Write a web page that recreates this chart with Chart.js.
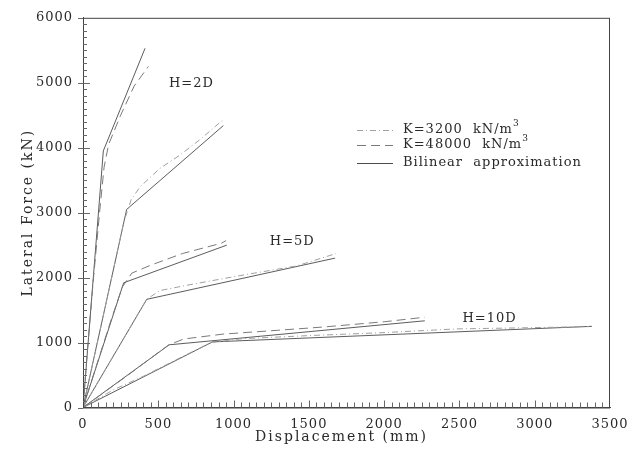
<!DOCTYPE html>
<html>
<head>
<meta charset="utf-8">
<script src="https://cdn.jsdelivr.net/npm/chart.js@4.4.1/dist/chart.umd.min.js"></script>
<style>
  html, body { margin: 0; padding: 0; background: #fff; }
</style>
</head>
<body>
<canvas id="myChart" width="638" height="452"></canvas>
<script>
// Axis ticks
var xTicks = [0, 500, 1000, 1500, 2000, 2500, 3000, 3500];
var yTicks = [0, 1000, 2000, 3000, 4000, 5000, 6000];
var xTitle = 'Displacement (mm)';
var yTitle = 'Lateral Force (kN)';

// H=2D
var h2StiffDisp  = [0, 30, 70, 110, 140, 170, 250, 340, 434];
var h2StiffForce = [0, 900, 2000, 3000, 3700, 4050, 4500, 4950, 5250];
var h2StiffBiDisp  = [0, 135, 412];
var h2StiffBiForce = [0, 3950, 5530];
var h2SoftDisp  = [0, 100, 200, 270, 320, 380, 510, 640, 780, 925];
var h2SoftForce = [0, 1050, 2100, 2850, 3200, 3400, 3680, 3880, 4130, 4420];
var h2SoftBiDisp  = [0, 290, 932];
var h2SoftBiForce = [0, 3050, 4340];

// H=5D
var h5StiffDisp  = [0, 90, 180, 260, 325, 460, 660, 920, 950];
var h5StiffForce = [0, 650, 1300, 1850, 2070, 2200, 2370, 2530, 2570];
var h5StiffBiDisp  = [0, 270, 955];
var h5StiffBiForce = [0, 1920, 2500];
var h5SoftDisp  = [0, 140, 280, 423, 510, 730, 1090, 1420, 1680];
var h5SoftForce = [0, 550, 1100, 1665, 1800, 1900, 2050, 2180, 2370];
var h5SoftBiDisp  = [0, 423, 1674];
var h5SoftBiForce = [0, 1665, 2300];

// H=10D
var h10StiffDisp  = [0, 150, 300, 450, 570, 670, 930, 1300, 1600, 2000, 2270];
var h10StiffForce = [0, 250, 500, 760, 965, 1055, 1130, 1190, 1240, 1320, 1390];
var h10StiffBiDisp  = [0, 572, 2270];
var h10StiffBiForce = [0, 965, 1335];
var h10SoftDisp  = [0, 200, 400, 640, 850, 1060, 1530, 1970, 2480, 2880, 3360];
var h10SoftForce = [0, 270, 480, 760, 1000, 1060, 1110, 1150, 1210, 1225, 1245];
var h10SoftBiDisp  = [0, 860, 3380];
var h10SoftBiForce = [0, 1010, 1250];

// Curve labels (data coordinates)
var labelText = ['H=2D', 'H=5D', 'H=10D'];
var labelDisp = [720, 1390, 2700];
var labelForce = [4990, 2550, 1365];

var FONT = '"DejaVu Serif", "Liberation Serif", serif';
var INK = '#2a2a2a';

function pts(xs, ys) {
  return xs.map(function (x, i) { return { x: x, y: ys[i] }; });
}

var softStyle  = { borderColor: '#a0a0a0', borderDash: [6, 3, 1, 3], borderWidth: 1 };
var stiffStyle = { borderColor: '#7a7a7a', borderDash: [9, 5], borderWidth: 1 };
var biStyle    = { borderColor: '#4a4a4a', borderDash: [], borderWidth: 0.9 };

function ds(xs, ys, style) {
  return Object.assign({ data: pts(xs, ys), pointRadius: 0, fill: false, tension: 0 }, style);
}

var datasets = [
  ds(h2StiffDisp, h2StiffForce, stiffStyle),
  ds(h2SoftDisp, h2SoftForce, softStyle),
  ds(h5StiffDisp, h5StiffForce, stiffStyle),
  ds(h5SoftDisp, h5SoftForce, softStyle),
  ds(h10StiffDisp, h10StiffForce, stiffStyle),
  ds(h10SoftDisp, h10SoftForce, softStyle),
  ds(h2StiffBiDisp, h2StiffBiForce, biStyle),
  ds(h2SoftBiDisp, h2SoftBiForce, biStyle),
  ds(h5StiffBiDisp, h5StiffBiForce, biStyle),
  ds(h5SoftBiDisp, h5SoftBiForce, biStyle),
  ds(h10StiffBiDisp, h10StiffBiForce, biStyle),
  ds(h10SoftBiDisp, h10SoftBiForce, biStyle)
];

// frame, minor ticks, axis titles, curve labels, legend
var decor = {
  id: 'decor',
  beforeDraw: function (chart) {
    chart.ctx.letterSpacing = '1px';
  },
  afterDraw: function (chart) {
    var ctx = chart.ctx;
    var a = chart.chartArea;
    var xs = chart.scales.x, ys = chart.scales.y;
    ctx.save();
    ctx.strokeStyle = '#444';
    ctx.lineWidth = 1;
    ctx.strokeRect(a.left + 0.5, a.top + 0.5, a.right - a.left - 1, a.bottom - a.top);

    // inward minor ticks
    ctx.strokeStyle = '#666';
    ctx.beginPath();
    for (var v = 50; v < 3500; v += 50) {
      var px = Math.round(xs.getPixelForValue(v)) + 0.5;
      var len = v % 500 === 0 ? 7 : 5;
      ctx.moveTo(px, a.bottom);
      ctx.lineTo(px, a.bottom - len);
    }
    for (var w = 100; w < 6000; w += 100) {
      var py = Math.round(ys.getPixelForValue(w)) + 0.5;
      var l2 = w % 1000 === 0 ? 7 : 4;
      ctx.moveTo(a.left, py);
      ctx.lineTo(a.left + l2, py);
    }
    ctx.stroke();
    // outward major ticks on y
    ctx.beginPath();
    yTicks.forEach(function (t) {
      var py = Math.round(ys.getPixelForValue(t)) + 0.5;
      ctx.moveTo(a.left - 5, py);
      ctx.lineTo(a.left, py);
    });
    ctx.stroke();

    // axis titles
    ctx.fillStyle = INK;
    ctx.textAlign = 'center';
    ctx.textBaseline = 'middle';
    ctx.font = '14px ' + FONT;
    ctx.letterSpacing = '2px';
    ctx.fillText(xTitle, (a.left + a.right) / 2 - 5, 437);
    ctx.save();
    ctx.translate(28, (a.top + a.bottom) / 2);
    ctx.rotate(-Math.PI / 2);
    ctx.fillText(yTitle, 0, 0);
    ctx.restore();

    // curve labels
    ctx.letterSpacing = '1px';
    ctx.font = '13px ' + FONT;
    labelText.forEach(function (t, i) {
      ctx.fillText(t, xs.getPixelForValue(labelDisp[i]), ys.getPixelForValue(labelForce[i]));
    });

    // legend
    var lx0 = 357, lx1 = 393, tx = 403;
    var rows = [130, 145, 163];
    var styles = [softStyle, stiffStyle, biStyle];
    var texts = ['K=3200  kN/m', 'K=48000  kN/m', 'Bilinear  approximation'];
    ctx.textAlign = 'left';
    rows.forEach(function (ry, i) {
      ctx.strokeStyle = styles[i].borderColor;
      ctx.setLineDash(styles[i].borderDash);
      ctx.beginPath();
      ctx.moveTo(lx0, ry + 0.5);
      ctx.lineTo(lx1, ry + 0.5);
      ctx.stroke();
      ctx.setLineDash([]);
      ctx.font = '13px ' + FONT;
      ctx.fillText(texts[i], tx, ry);
      if (i < 2) {
        var wdt = ctx.measureText(texts[i]).width;
        ctx.font = '9px ' + FONT;
        ctx.fillText('3', tx + wdt, ry - 6);
      }
    });
    ctx.restore();
  }
};

function plain(v) { return String(v); }

var ctx = document.getElementById('myChart').getContext('2d');
new Chart(ctx, {
  type: 'line',
  data: { datasets: datasets },
  options: {
    responsive: false,
    animation: false,
    layout: { padding: { top: 14, right: 28, left: 0, bottom: 0 } },
    plugins: { legend: { display: false }, tooltip: { enabled: false } },
    scales: {
      x: {
        type: 'linear',
        min: 0, max: 3500,
        afterBuildTicks: function (s) { s.ticks = xTicks.map(function (v) { return { value: v }; }); },
        afterFit: function (s) { s.height = 44.5; },
        grid: { display: true, drawOnChartArea: false, drawTicks: false, color: 'transparent' },
        border: { display: true, color: '#444' },
        ticks: { color: INK, font: { family: FONT, size: 13 }, padding: 9, maxRotation: 0, callback: plain },
        title: { display: false }
      },
      y: {
        type: 'linear',
        min: 0, max: 6000,
        afterBuildTicks: function (s) { s.ticks = yTicks.map(function (v) { return { value: v }; }); },
        afterFit: function (s) { s.width = 83; },
        grid: { display: true, drawOnChartArea: false, drawTicks: false, color: 'transparent' },
        border: { display: true, color: '#444' },
        ticks: { color: INK, font: { family: FONT, size: 13 }, padding: 10, callback: plain },
        title: { display: false }
      }
    }
  },
  plugins: [decor]
});
</script>
</body>
</html>
